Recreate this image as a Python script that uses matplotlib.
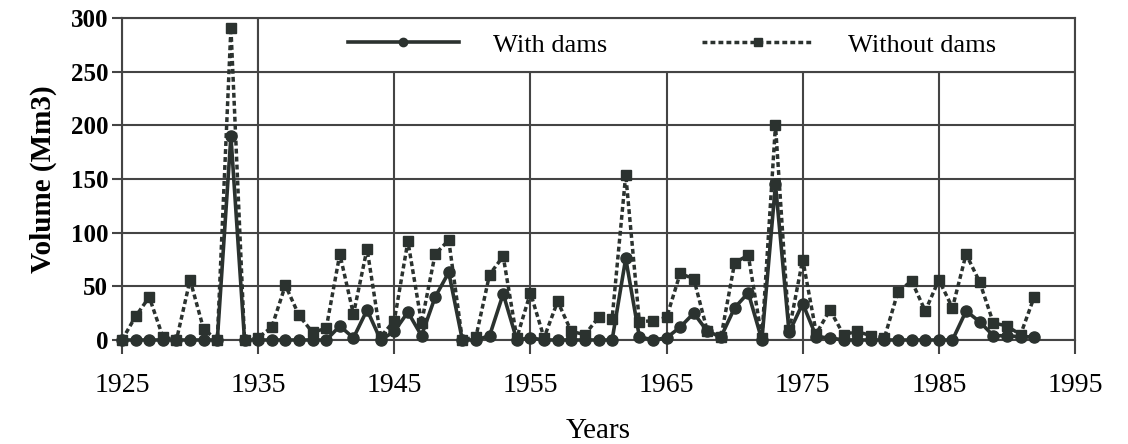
import matplotlib
matplotlib.use("Agg")
import matplotlib.pyplot as plt
from matplotlib.patches import Rectangle

# --- Data ---
years = list(range(1925, 1993))

without_dams = [0, 22, 40, 3, 0, 56, 10, 0, 291, 0,
                2, 12, 51, 23, 7, 11, 80, 24, 85, 3,
                18, 92, 16, 80, 93, 0, 3, 61, 78, 2,
                44, 2, 36, 8, 5, 21, 20, 154, 17, 18,
                21, 62, 57, 8, 3, 72, 79, 2, 200, 9,
                75, 6, 28, 5, 8, 4, 2, 45, 55, 27,
                56, 30, 80, 54, 16, 13, 5, 40]

with_dams = [0, 0, 0, 0, 0, 0, 0, 0, 190, 0,
             0, 0, 0, 0, 0, 0, 13, 2, 28, 0,
             8, 26, 4, 40, 63, 0, 0, 4, 43, 0,
             2, 0, 0, 0, 0, 0, 0, 76, 3, 0,
             2, 12, 25, 8, 3, 30, 44, 0, 145, 7,
             34, 3, 2, 0, 0, 0, 0, 0, 0, 0,
             0, 0, 27, 17, 4, 4, 3, 3]

x_ticks = [1925, 1935, 1945, 1955, 1965, 1975, 1985, 1995]
y_ticks = [0, 50, 100, 150, 200, 250, 300]

line_color = "#2b322f"
grid_color = "#444444"

plt.rcParams["font.family"] = ["Liberation Serif", "DejaVu Serif"]

# --- Figure ---
fig = plt.figure(figsize=(11.28, 4.44), dpi=100)
ax = fig.add_axes([122 / 1128, 1 - 340 / 444, 953 / 1128, 322 / 444])

ax.plot(years, without_dams, color=line_color, lw=2.5, linestyle=(0, (1.4, 0.9)),
        marker="s", markersize=7, label="Without dams", clip_on=False, zorder=3)
ax.plot(years, with_dams, color=line_color, lw=2.6, linestyle="-",
        marker="o", markersize=8, label="With dams", clip_on=False, zorder=4)

ax.set_xlim(1925, 1995)
ax.set_ylim(0, 300)
ax.set_xticks(x_ticks)
ax.set_yticks(y_ticks)
ax.grid(True, color=grid_color, lw=1.5)
ax.set_axisbelow(True)

for s in ax.spines.values():
    s.set_color(grid_color)
    s.set_linewidth(1.5)

ax.tick_params(axis="x", direction="out", length=10, width=1.5, color=grid_color,
               labelsize=20, pad=14)
ax.tick_params(axis="y", direction="out", length=7, width=1.5, color=grid_color,
               labelsize=18, pad=3)
for lbl in ax.get_yticklabels():
    lbl.set_fontweight("bold")

ax.set_xlabel("Years", fontsize=21, labelpad=14)
ax.set_ylabel("Volume (Mm3)", fontsize=21, fontweight="bold", labelpad=10)

# legend box sits on the top-right grid cells
ax.add_patch(Rectangle((1935, 250), 60, 50, facecolor="white", edgecolor=grid_color,
                       lw=1.5, zorder=2))

handles, labels = ax.get_legend_handles_labels()
ax.legend(handles[::-1], labels[::-1], ncol=2, frameon=False, fontsize=19,
          loc="center left", bbox_to_anchor=((348 - 122) / 953, (340 - 45) / 322),
          borderpad=0, borderaxespad=0, handlelength=4.2, handletextpad=1.3,
          columnspacing=3.6, markerscale=0.75)

fig.savefig("out.png", dpi=100)
plt.close(fig)
